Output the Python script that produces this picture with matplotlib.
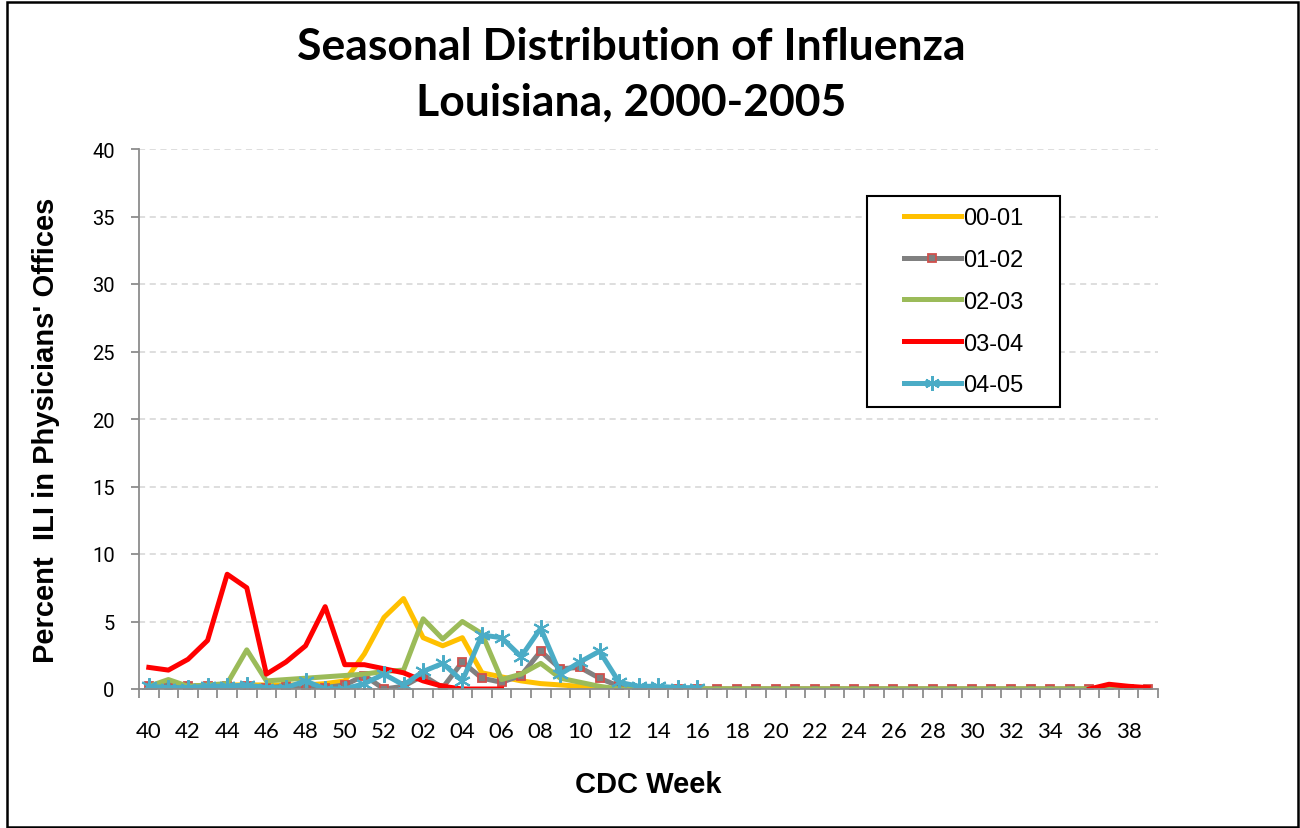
import numpy as np
import matplotlib.pyplot as plt
from matplotlib.ticker import FixedLocator, NullFormatter

weeks = [str(w) for w in range(40, 53)] + ["%02d" % w for w in range(1, 40)]
nan = np.nan

s0001 = [0.1, 0.2, 0.2, 0.3, 0.3, 0.3, 0.3, 0.3, 0.3, 0.4, 0.6, 2.6, 5.3, 6.7, 3.8, 3.2, 3.8, 1.2, 0.9,
         0.6, 0.4, 0.3, 0.2, 0.1, 0.0] + [0.0] * 27
s0102 = [0.2, 0.4, 0.2, 0.2, 0.2, 0.2, 0.1, 0.2, 0.2, 0.1, 0.3, 1.0, 0.0, 0.2, 1.0, 0.1, 2.0, 0.8, 0.5,
         1.0, 2.8, 1.5, 1.6, 0.8, 0.2] + [0.0] * 27
s0203 = [0.2, 0.7, 0.2, 0.3, 0.4, 2.9, 0.6, 0.7, 0.8, 0.9, 1.0, 1.1, 1.3, 1.4, 5.2, 3.7, 5.0, 4.1, 0.7,
         1.1, 1.9, 0.8, 0.5, 0.2, 0.0] + [0.0] * 27
s0304 = [1.6, 1.4, 2.2, 3.6, 8.5, 7.5, 1.1, 2.0, 3.2, 6.1, 1.8, 1.8, 1.5, 1.2, 0.6, 0.2, 0.0, 0.0, 0.0] \
        + [nan] * 29 + [0.0, 0.35, 0.2, 0.1]
s0405 = [0.2, 0.1, 0.1, 0.2, 0.2, 0.3, 0.1, 0.1, 0.6, 0.0, 0.0, 0.4, 1.1, 0.3, 1.3, 1.9, 0.6, 4.0, 3.8,
         2.4, 4.5, 1.1, 2.0, 2.8, 0.5, 0.2, 0.2, 0.1, 0.1] + [nan] * 23

x = np.arange(len(weeks))

W, H = 1300, 829
fig = plt.figure(figsize=(13, 8.29), dpi=100)
ax = fig.add_axes([139 / W, 1 - 690 / H, 1019 / W, 540 / H])

ax.plot(x, s0001, color="#FFC000", lw=3.6, label="00-01")
ax.plot(x, s0102, color="#808080", lw=3.6, marker="s", ms=6, mfc="#7F7F7F", mec="#D0504D", mew=1.3,
        label="01-02")
ax.plot(x, s0203, color="#9BBB59", lw=3.6, label="02-03")
ax.plot(x, s0304, color="#FF0000", lw=3.6, label="03-04")
ax.plot(x, s0405, color="#4BACC6", lw=3.6, marker=(6, 2, 0), ms=12, mew=1.5, label="04-05")

ax.set_xlim(-0.5, len(weeks) - 0.5)
ax.set_ylim(0, 40)
ax.set_yticks(range(0, 41, 5))
ax.yaxis.grid(True, color="#D4D4D4", ls=(0, (4, 3)), lw=1.1)
ax.set_axisbelow(True)

ax.xaxis.set_major_locator(FixedLocator(np.arange(-0.5, len(weeks), 1)))
ax.xaxis.set_major_formatter(NullFormatter())
ax.xaxis.set_minor_locator(FixedLocator(x[::2]))
ax.set_xticklabels(weeks[::2], minor=True)
ax.tick_params(axis="x", which="major", length=6.5, color="#8C8C8C", width=1.3, direction="out")
ax.tick_params(axis="x", which="minor", length=0, pad=23, labelsize=16)
ax.tick_params(axis="y", length=5.5, color="#8C8C8C", width=1.3, labelsize=14.5, pad=12)
for lbl in ax.get_xticklabels(minor=True):
    lbl.set_family("Lato")
for lbl in ax.get_yticklabels():
    lbl.set_family(["Liberation Sans Narrow", "Roboto"])

for side in ["top", "right"]:
    ax.spines[side].set_visible(False)
for side in ["left", "bottom"]:
    ax.spines[side].set_color("#8C8C8C")
    ax.spines[side].set_linewidth(1.3)

fig.text(648 / W, 1 - 785 / H, "CDC Week", ha="center", va="center", fontsize=21,
         fontweight="bold", family="Liberation Sans")
fig.text(46 / W, 1 - 430 / H, "Percent  ILI in Physicians' Offices", ha="center", va="center",
         rotation=90, fontsize=21, fontweight="bold", family="Liberation Sans")

fig.text(631 / W, 1 - 47 / H, "Seasonal Distribution of Influenza", ha="center", va="center",
         fontsize=32, fontweight="bold", family="Lato")
fig.text(631 / W, 1 - 103 / H, "Louisiana, 2000-2005", ha="center", va="center",
         fontsize=32, fontweight="bold", family="Lato")

# legend box drawn by hand, entries placed inside it
bx0, bx1, by0, by1 = 867, 1060, 197, 408
ax.add_patch(plt.Rectangle(((bx0 - 139) / 1019, (690 - by1) / 540), (bx1 - bx0) / 1019, (by1 - by0) / 540,
                           transform=ax.transAxes, facecolor="white", edgecolor="black", lw=1.5,
                           zorder=5, clip_on=False))
leg = ax.legend(loc="upper left", bbox_to_anchor=((897 - 139) / 1019, (690 - 201) / 540), frameon=False,
                prop={"family": "Liberation Sans", "size": 17}, handlelength=2.4, labelspacing=0.84,
                borderpad=0.3, borderaxespad=0, handletextpad=0.1, markerscale=0.9)
leg.set_zorder(6)

fig.patches.append(plt.Rectangle((7 / W, 1.5 / H), 1291 / W, 825 / H, transform=fig.transFigure,
                                 fill=False, edgecolor="black", lw=1.8))

fig.savefig("out.png", dpi=100)
